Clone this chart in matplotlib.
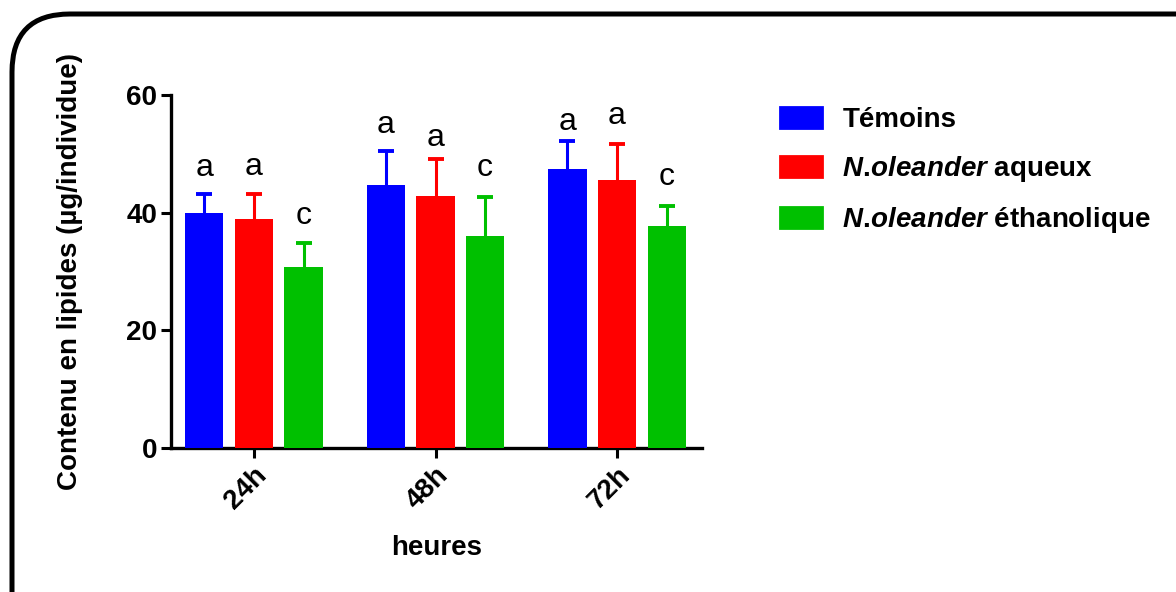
import numpy as np
import matplotlib.pyplot as plt
from matplotlib.patches import FancyBboxPatch, Patch
from matplotlib.transforms import ScaledTranslation

plt.rcParams['font.family'] = ['Liberation Sans', 'DejaVu Sans']
plt.rcParams['mathtext.fontset'] = 'custom'
plt.rcParams['mathtext.it'] = 'Liberation Sans:italic:bold'
plt.rcParams['mathtext.rm'] = 'Liberation Sans:bold'

hours = ["24h", "48h", "72h"]
series = ["Témoins", "$\\mathit{N.\\!oleander}$ aqueux", "$\\mathit{N.\\!oleander}$ éthanolique"]
colors = ["#0000FF", "#FF0000", "#00C000"]

means = {
    "temoins": [40.0, 44.7, 47.4],
    "aqueux": [38.9, 42.8, 45.6],
    "ethanol": [30.7, 36.1, 37.8],
}
errs = {
    "temoins": [3.2, 5.7, 4.7],
    "aqueux": [4.3, 6.4, 6.0],
    "ethanol": [4.1, 6.5, 3.3],
}
letters = {
    "temoins": ["a", "a", "a"],
    "aqueux": ["a", "a", "a"],
    "ethanol": ["c", "c", "c"],
}
letter_y = {
    "temoins": [47.6, 54.9, 55.4],
    "aqueux": [47.8, 52.7, 56.4],
    "ethanol": [39.4, 47.6, 46.1],
}

fig = plt.figure(figsize=(11.76, 5.92), dpi=100)

# rounded frame around the whole figure (pixel coords, cut at right/bottom)
fig.patches.append(FancyBboxPatch((12, -100), 1300, 592 - 14 + 100,
                                  boxstyle="round,pad=0,rounding_size=58",
                                  transform=None, fill=False,
                                  edgecolor="black", linewidth=3.6))

ax = fig.add_axes([171 / 1176, 1 - 448 / 592, (702 - 171) / 1176, (448 - 95) / 592])

x = np.arange(len(hours))
width = 0.21
offset = 0.273
for i, key in enumerate(["temoins", "aqueux", "ethanol"]):
    pos = x + (i - 1) * offset
    ax.bar(pos, means[key], width, color=colors[i], label=series[i], zorder=3)
    eb = ax.errorbar(pos, means[key], yerr=[np.zeros(3), errs[key]], fmt="none",
                     ecolor=colors[i], elinewidth=2.2, capsize=5.8, capthick=2.8, zorder=2)
    eb[1][0].set_visible(False)  # no cap at bar top
    for p, ly, lt in zip(pos, letter_y[key], letters[key]):
        ax.text(p, ly, lt, ha="center", va="center", fontsize=23)

ax.set_xlim(-0.457, 2.468)
ax.set_ylim(0, 60)
ax.set_yticks([0, 20, 40, 60])
ax.set_xticks(x)
ax.set_xticklabels(hours, rotation=45, ha="right", rotation_mode="anchor",
                   fontsize=20, fontweight="bold")
for lbl in ax.get_xticklabels():
    lbl.set_transform(lbl.get_transform() + ScaledTranslation(0.06, -0.08, fig.dpi_scale_trans))
for lbl in ax.get_yticklabels():
    lbl.set_fontsize(20)
    lbl.set_fontweight("bold")
ax.spines["top"].set_visible(False)
ax.spines["right"].set_visible(False)
ax.spines["left"].set_linewidth(2.4)
ax.spines["bottom"].set_linewidth(2.4)
ax.tick_params(axis="both", width=2.2, length=7, pad=3)

ax.set_ylabel("Contenu en lipides (µg/individue)", fontsize=20, fontweight="bold", labelpad=31)
ax.set_xlabel("heures", fontsize=20, fontweight="bold", labelpad=15)

handles = [Patch(facecolor=c, edgecolor=c, joinstyle="round", linewidth=2) for c in colors]
fig.legend(handles, series, loc="upper left", bbox_to_anchor=(755 / 1176, 1 - 82 / 592),
           frameon=False, prop={"size": 20, "weight": "bold"},
           handlelength=1.5, handleheight=0.8, handletextpad=0.75, labelspacing=0.75)

fig.savefig("out.png", dpi=100)
